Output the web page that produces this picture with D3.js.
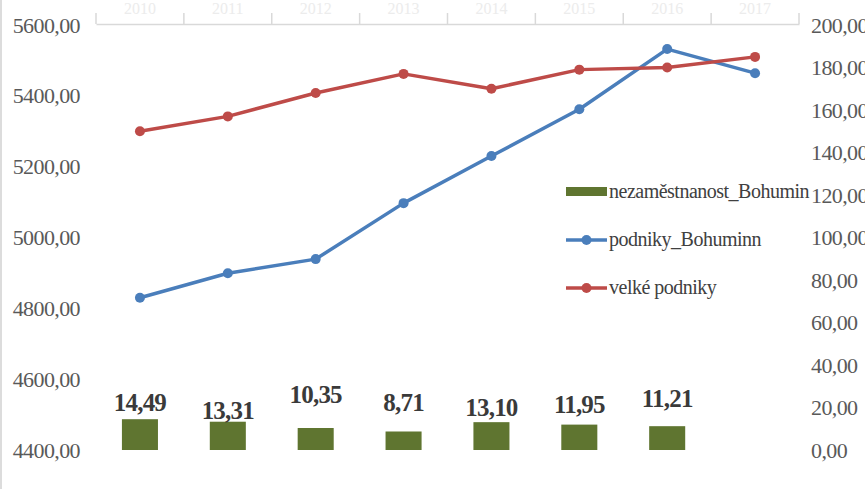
<!DOCTYPE html>
<html>
<head>
<meta charset="utf-8">
<script src="https://cdn.jsdelivr.net/npm/d3@7"></script>
<style>
  body { margin: 0; background: #fff; }
  svg { display: block; }
</style>
</head>
<body>
<div id="chart"></div>
<script>
// chart data
const years = ['2010', '2011', '2012', '2013', '2014', '2015', '2016', '2017'];
const nezamestnanost = [14.49, 13.31, 10.35, 8.71, 13.10, 11.95, 11.21, null];
const podnikyBohumin = [4830, 4899, 4939, 5097, 5230, 5362, 5532, 5464];
const velkePodniky = [150, 157, 168, 177, 170, 179, 180, 185];
const leftTicks = [4400, 4600, 4800, 5000, 5200, 5400, 5600];
const rightTicks = [0, 20, 40, 60, 80, 100, 120, 140, 160, 180, 200];
// labels in the original were dragged by hand, small nudge per label (px above bar)
const labelGap = [8, 3, 25, 20, 6, 12, 19];

const W = 865, H = 489;
const fmt = v => v.toFixed(2).replace('.', ',');
const serif = '"Liberation Serif", "Times New Roman", serif';

const svg = d3.select('#chart').append('svg')
  .attr('width', W)
  .attr('height', H);

const x = d3.scaleBand().domain(years).range([96, 799]).paddingInner(0).paddingOuter(0);
const yLeft = d3.scaleLinear().domain([4400, 5600]).range([450, 25]);
const yRight = d3.scaleLinear().domain([0, 200]).range([450, 25]);

// left border line
svg.append('line')
  .attr('x1', 1).attr('x2', 1).attr('y1', 0).attr('y2', H)
  .style('stroke', '#dcdcdc').style('stroke-width', 2);

// faint category labels at top
svg.selectAll('.cat')
  .data(years)
  .enter()
  .append('text')
  .attr('class', 'cat')
  .attr('x', d => x(d) + x.bandwidth() / 2)
  .attr('y', 14)
  .attr('text-anchor', 'middle')
  .style('font-family', serif)
  .style('font-size', '16px')
  .style('fill', '#ececec')
  .text(d => d);

// top category axis (crosses at max)
const xAxis = svg.append('g')
  .attr('transform', 'translate(0,24)')
  .call(d3.axisTop(x).tickSize(0).tickFormat(''));
xAxis.select('.domain').style('stroke', '#d9d9d9').style('stroke-width', 1.5);
xAxis.selectAll('.bound')
  .data(d3.range(years.length + 1))
  .enter()
  .append('line')
  .attr('class', 'bound')
  .attr('x1', i => x.range()[0] + i * x.step())
  .attr('x2', i => x.range()[0] + i * x.step())
  .attr('y1', 0).attr('y2', -11)
  .style('stroke', '#d9d9d9').style('stroke-width', 1.5);

// left axis labels
const leftAxis = svg.append('g')
  .attr('transform', 'translate(80,0)')
  .call(d3.axisLeft(yLeft).tickValues(leftTicks).tickSize(0).tickPadding(0).tickFormat(fmt));
leftAxis.select('.domain').remove();
leftAxis.selectAll('text')
  .style('font-family', serif)
  .style('font-size', '22px')
  .style('letter-spacing', '-0.6px')
  .style('fill', '#595959');

// right axis labels
const rightAxis = svg.append('g')
  .attr('transform', 'translate(811,0)')
  .call(d3.axisRight(yRight).tickValues(rightTicks).tickSize(0).tickPadding(0).tickFormat(fmt));
rightAxis.select('.domain').remove();
rightAxis.selectAll('text')
  .style('font-family', serif)
  .style('font-size', '22px')
  .style('letter-spacing', '-0.6px')
  .style('fill', '#595959');

// bars (right axis)
const barData = years.map((y, i) => ({ year: y, v: nezamestnanost[i], i }))
  .filter(d => d.v !== null);
const barW = x.bandwidth() * 0.41;

svg.selectAll('.bar')
  .data(barData)
  .enter()
  .append('rect')
  .attr('class', 'bar')
  .attr('x', d => x(d.year) + (x.bandwidth() - barW) / 2)
  .attr('y', d => yRight(d.v))
  .attr('width', barW)
  .attr('height', d => yRight(0) - yRight(d.v))
  .style('fill', '#5f7530');

svg.selectAll('.bar-label')
  .data(barData)
  .enter()
  .append('text')
  .attr('class', 'bar-label')
  .attr('x', d => x(d.year) + x.bandwidth() / 2)
  .attr('y', d => yRight(d.v) - labelGap[d.i])
  .attr('text-anchor', 'middle')
  .style('font-family', serif)
  .style('font-size', '25px')
  .style('letter-spacing', '-0.8px')
  .style('font-weight', 'bold')
  .style('fill', '#3a3a3a')
  .text(d => fmt(d.v));

// lines
function drawSeries(values, scale, color) {
  const pts = years.map((y, i) => ({ year: y, v: values[i] }));
  const line = d3.line()
    .x(d => x(d.year) + x.bandwidth() / 2)
    .y(d => scale(d.v));
  svg.append('path')
    .datum(pts)
    .attr('d', line)
    .style('fill', 'none')
    .style('stroke', color)
    .style('stroke-width', 3.5)
    .style('stroke-linejoin', 'round');
  svg.selectAll(null)
    .data(pts)
    .enter()
    .append('circle')
    .attr('cx', d => x(d.year) + x.bandwidth() / 2)
    .attr('cy', d => scale(d.v))
    .attr('r', 5)
    .style('fill', color);
}
drawSeries(podnikyBohumin, yLeft, '#4a7ebb');
drawSeries(velkePodniky, yRight, '#be4b48');

// legend
const legendItems = [
  { name: 'nezaměstnanost_Bohumin', type: 'bar', color: '#5f7530' },
  { name: 'podniky_Bohuminn', type: 'line', color: '#4a7ebb' },
  { name: 'velké podniky', type: 'line', color: '#be4b48' }
];
const legend = svg.append('g').attr('transform', 'translate(566,192)');
const li = legend.selectAll('.li')
  .data(legendItems)
  .enter()
  .append('g')
  .attr('class', 'li')
  .attr('transform', (d, i) => `translate(0,${i * 48})`);

li.filter(d => d.type === 'bar').append('rect')
  .attr('x', 0).attr('y', -5).attr('width', 41).attr('height', 9)
  .style('fill', d => d.color);
li.filter(d => d.type === 'line').append('line')
  .attr('x1', 0).attr('x2', 41).attr('y1', 0).attr('y2', 0)
  .style('stroke', d => d.color).style('stroke-width', 3.5);
li.filter(d => d.type === 'line').append('circle')
  .attr('cx', 20.5).attr('cy', 0).attr('r', 5)
  .style('fill', d => d.color);
li.append('text')
  .attr('x', 43)
  .attr('y', 0)
  .attr('dy', '0.32em')
  .style('font-family', serif)
  .style('font-size', '20px')
  .style('letter-spacing', '-0.5px')
  .style('fill', '#404040')
  .text(d => d.name);
</script>
</body>
</html>
